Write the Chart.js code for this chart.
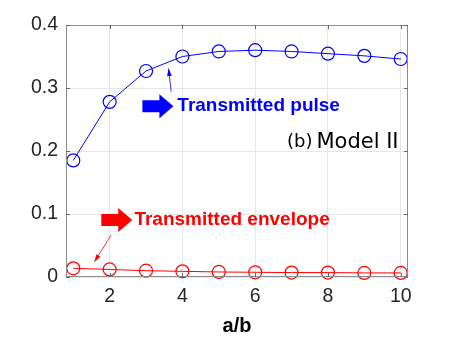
<!DOCTYPE html>
<html>
<head>
<meta charset="utf-8">
<script src="https://cdn.jsdelivr.net/npm/chart.js@4"></script>
<style>
    html, body { margin: 0; padding: 0; background: #fff; }
    #wrap { width: 450px; height: 338px; }
</style>
</head>
<body>
<div id="wrap"><canvas id="CHART" width="450" height="338"></canvas></div>
<script>
"use strict"

const ratio = [1, 2, 3, 4, 5, 6, 7, 8, 9, 10]
const pulse = [0.185, 0.278, 0.327, 0.350, 0.358, 0.360, 0.358, 0.3545, 0.351, 0.346]
const envelope = [0.0138, 0.012, 0.010, 0.009, 0.008, 0.0075, 0.007, 0.007, 0.0065, 0.0065]
const xticks = [2, 4, 6, 8, 10]
const yticks = [0, 0.1, 0.2, 0.3, 0.4]

const BLUE = "#0000ff"
const RED = "#ff0000"
const FONT = "'Liberation Sans', Arial, sans-serif"

function blockArrow(ctx, x, y, color) {
    // fat right-pointing arrow, x = tail, y = centre
    ctx.fillStyle = color
    ctx.beginPath()
    ctx.moveTo(x, y - 6)
    ctx.lineTo(x + 17, y - 6)
    ctx.lineTo(x + 17, y - 12)
    ctx.lineTo(x + 31, y)
    ctx.lineTo(x + 17, y + 12)
    ctx.lineTo(x + 17, y + 6)
    ctx.lineTo(x, y + 6)
    ctx.closePath()
    ctx.fill()
}

function thinArrow(ctx, x0, y0, x1, y1, color) {
    ctx.strokeStyle = color
    ctx.fillStyle = color
    ctx.lineWidth = 0.8
    ctx.beginPath()
    ctx.moveTo(x0, y0)
    ctx.lineTo(x1, y1)
    ctx.stroke()
    const a = Math.atan2(y1 - y0, x1 - x0)
    ctx.beginPath()
    ctx.moveTo(x1, y1)
    ctx.lineTo(x1 - 8 * Math.cos(a - 0.3), y1 - 8 * Math.sin(a - 0.3))
    ctx.lineTo(x1 - 8 * Math.cos(a + 0.3), y1 - 8 * Math.sin(a + 0.3))
    ctx.closePath()
    ctx.fill()
}

const annotations = {
    id: "annotations",
    afterDatasetsDraw(chart) {
        const { ctx, scales: { x, y } } = chart
        ctx.save()
        // transmitted pulse
        blockArrow(ctx, x.getPixelForValue(2.9), y.getPixelForValue(0.271), BLUE)
        ctx.font = "bold 19px " + FONT
        ctx.fillStyle = BLUE
        ctx.textBaseline = "middle"
        ctx.fillText("Transmitted pulse", x.getPixelForValue(3.86), y.getPixelForValue(0.2715))
        thinArrow(ctx, x.getPixelForValue(3.69), y.getPixelForValue(0.294),
            x.getPixelForValue(3.62), y.getPixelForValue(0.331), BLUE)
        // transmitted envelope
        blockArrow(ctx, x.getPixelForValue(1.77), y.getPixelForValue(0.0905), RED)
        ctx.fillStyle = RED
        ctx.fillText("Transmitted envelope", x.getPixelForValue(2.68), y.getPixelForValue(0.0905))
        thinArrow(ctx, x.getPixelForValue(2.04), y.getPixelForValue(0.0667),
            x.getPixelForValue(1.58), y.getPixelForValue(0.024), RED)
        // panel label
        ctx.fillStyle = "#000"
        ctx.textAlign = "right"
        ctx.font = "21px 'DejaVu Sans', sans-serif"
        const right = x.getPixelForValue(9.94)
        const ly = y.getPixelForValue(0.213)
        ctx.fillText("Model II", right, ly)
        const w = ctx.measureText("Model II").width
        ctx.font = "18px 'DejaVu Sans', sans-serif"
        ctx.fillText("(b)", right - w - 4, ly)
        ctx.restore()
    }
}

const frame = {
    id: "frame",
    afterDraw(chart) {
        const { ctx, chartArea: a, scales: { x, y } } = chart
        ctx.save()
        ctx.strokeStyle = "#8c8c8c"
        ctx.lineWidth = 1
        ctx.strokeRect(a.left + 0.5, a.top + 0.5, a.right - a.left - 1, a.bottom - a.top - 1)
        ctx.strokeStyle = "#666"
        ctx.beginPath()
        for (const t of xticks) {
            const px = Math.round(x.getPixelForValue(t)) + 0.5
            ctx.moveTo(px, a.bottom); ctx.lineTo(px, a.bottom - 4)
            ctx.moveTo(px, a.top); ctx.lineTo(px, a.top + 4)
        }
        for (const t of yticks) {
            const py = Math.round(y.getPixelForValue(t)) + 0.5
            ctx.moveTo(a.left, py); ctx.lineTo(a.left + 4, py)
            ctx.moveTo(a.right, py); ctx.lineTo(a.right - 4, py)
        }
        ctx.stroke()
        ctx.restore()
    }
}

new Chart(CHART, {
    type: "scatter",
    data: {
        datasets: [
            {
                label: "Transmitted pulse",
                data: ratio.map((r, i) => ({ x: r, y: pulse[i] })),
                showLine: true,
                borderColor: BLUE,
                backgroundColor: "rgba(0,0,0,0)",
                borderWidth: 1,
                pointRadius: 6.5,
                pointBorderWidth: 1.2,
                pointBorderColor: BLUE,
            },
            {
                label: "Transmitted envelope",
                data: ratio.map((r, i) => ({ x: r, y: envelope[i] })),
                showLine: true,
                borderColor: RED,
                backgroundColor: "rgba(0,0,0,0)",
                borderWidth: 1,
                pointRadius: 6.5,
                pointBorderWidth: 1.2,
                pointBorderColor: RED,
            },
        ]
    },
    options: {
        animation: false,
        responsive: false,
        maintainAspectRatio: false,
        clip: false,
        layout: { padding: { left: 0, top: 25, right: 42, bottom: 0 } },
        plugins: { legend: { display: false }, tooltip: { enabled: false } },
        scales: {
            x: {
                type: "linear",
                min: 0.8,
                max: 10.2,
                border: { display: false },
                grid: { color: "#e6e6e6", drawTicks: false },
                afterBuildTicks: axis => axis.ticks = xticks.map(v => ({ value: v })),
                afterFit: axis => axis.height = 61,
                ticks: { color: "#262626", font: { family: FONT, size: 19.5 }, padding: 8, maxRotation: 0 },
                title: {
                    display: true, text: "a/b", color: "#000",
                    font: { family: FONT, size: 20, weight: "bold" }, padding: { top: 2, bottom: 0 }
                },
            },
            y: {
                type: "linear",
                min: 0,
                max: 0.4,
                border: { display: false },
                grid: { color: "#e6e6e6", drawTicks: false },
                afterBuildTicks: axis => axis.ticks = yticks.map(v => ({ value: v })),
                afterFit: axis => axis.width = 66,
                ticks: {
                    color: "#262626", font: { family: FONT, size: 19.5 }, padding: 8,
                    callback: v => String(+v.toFixed(1)),
                },
            },
        },
    },
    plugins: [annotations, frame],
})
</script>
</body>
</html>
